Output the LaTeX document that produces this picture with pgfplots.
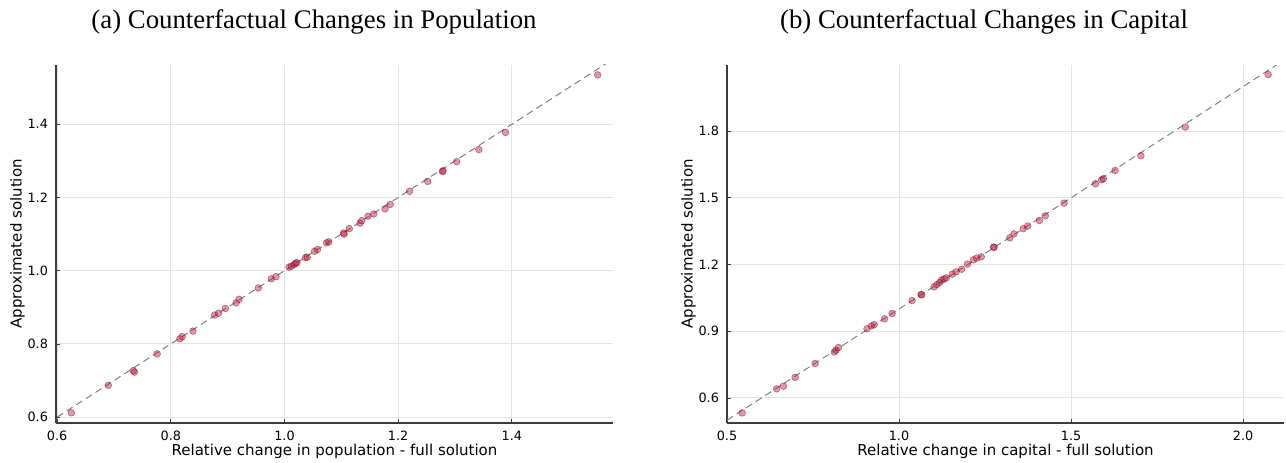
\documentclass[border=0pt]{standalone}
\usepackage{fontspec}
\setmainfont{Liberation Serif}
\newfontfamily\labfont{DejaVu Sans}
\usepackage{pgfplots}
\pgfplotsset{compat=1.18}
\definecolor{pt}{RGB}{220,20,60}
\definecolor{gridc}{RGB}{228,228,228}
\definecolor{axisc}{RGB}{60,60,60}
\definecolor{linec}{RGB}{128,128,128}
\pgfplotsset{jl/.style={
  scale only axis, width=278.5pt, height=179pt, anchor=south west,
  axis lines=left, axis line style={-, draw=axisc, line width=0.6pt},
  grid=major, major grid style={draw=gridc, line width=0.5pt},
  tick align=inside, major tick length=2.2pt, tick style={draw=axisc, line width=0.4pt},
  tick label style={font=\labfont\fontsize{6.4}{7}\selectfont},
  label style={font=\labfont\fontsize{7.5}{8.5}\selectfont},
  /pgf/number format/assume math mode=true,
  /pgf/number format/fixed, /pgf/number format/fixed zerofill, /pgf/number format/precision=1,
  xlabel style={at={(axis description cs:0.5,-0.078)}, anchor=center},
  ylabel style={at={(axis description cs:-0.069,0.5)}, anchor=center},
  xticklabel style={yshift=-0.5pt},
  yticklabel style={xshift=-0.5pt},
}}
\pgfplotsset{dots/.style={only marks, mark=*, mark size=1.7pt,
  mark options={fill=pt, fill opacity=0.47, draw=black, draw opacity=0.38, line width=0.3pt}}}
\pgfplotsset{diag/.style={no marks, draw=linec, line width=0.5pt, dash pattern=on 3.5pt off 2.2pt}}
\begin{document}
\begin{tikzpicture}
\begin{axis}[jl, at={(28pt,19.5pt)},
  xmin=0.598, xmax=1.578, ymin=0.584, ymax=1.562,
  xtick={0.6,0.8,1.0,1.2,1.4}, ytick={0.6,0.8,1.0,1.2,1.4},
  xlabel={Relative change in population - full solution},
  ylabel={Approximated solution}]
\addplot[diag] coordinates {(0.6,0.6) (1.6,1.6)};
\addplot[dots] table {
x y
0.625 0.612
0.690 0.687
0.734 0.727
0.736 0.723
0.776 0.773
0.816 0.814
0.820 0.820
0.839 0.835
0.877 0.879
0.884 0.884
0.896 0.897
0.915 0.912
0.920 0.922
0.954 0.953
0.977 0.978
0.985 0.984
1.008 1.010
1.012 1.012
1.017 1.017
1.020 1.021
1.022 1.022
1.037 1.036
1.040 1.037
1.053 1.053
1.058 1.058
1.074 1.076
1.078 1.079
1.104 1.103
1.105 1.100
1.114 1.115
1.133 1.130
1.136 1.137
1.147 1.149
1.157 1.155
1.177 1.169
1.186 1.181
1.220 1.217
1.252 1.244
1.278 1.271
1.279 1.273
1.303 1.298
1.342 1.331
1.389 1.378
1.551 1.535
};
\end{axis}
\begin{axis}[jl, at={(363.5pt,19.5pt)},
  xmin=0.5, xmax=2.119, ymin=0.4875, ymax=2.097,
  xtick={0.5,1.0,1.5,2.0}, ytick={0.6,0.9,1.2,1.5,1.8},
  xlabel={Relative change in capital - full solution},
  ylabel={Approximated solution}]
\addplot[diag] coordinates {(0.5,0.5) (2.2,2.2)};
\addplot[dots] table {
x y
0.544 0.533
0.644 0.641
0.664 0.653
0.698 0.693
0.756 0.755
0.812 0.807
0.817 0.815
0.824 0.827
0.907 0.911
0.920 0.924
0.928 0.930
0.958 0.956
0.980 0.980
1.038 1.038
1.064 1.065
1.066 1.064
1.102 1.100
1.110 1.110
1.118 1.119
1.124 1.130
1.131 1.135
1.137 1.140
1.155 1.157
1.166 1.167
1.182 1.179
1.199 1.202
1.216 1.221
1.226 1.229
1.239 1.235
1.275 1.278
1.276 1.277
1.322 1.320
1.334 1.338
1.361 1.361
1.374 1.373
1.408 1.398
1.425 1.419
1.480 1.476
1.571 1.563
1.589 1.581
1.594 1.586
1.628 1.623
1.703 1.689
1.832 1.818
2.073 2.054
};
\end{axis}
\node[anchor=base, font=\fontsize{13.4}{15}\selectfont] at (157pt,217pt) {(a) Counterfactual Changes in Population};
\node[anchor=base, font=\fontsize{13.4}{15}\selectfont] at (492pt,217pt) {(b) Counterfactual Changes in Capital};
\pgfresetboundingbox
\useasboundingbox (0,0) rectangle (643pt,231pt);
\end{tikzpicture}
\end{document}
